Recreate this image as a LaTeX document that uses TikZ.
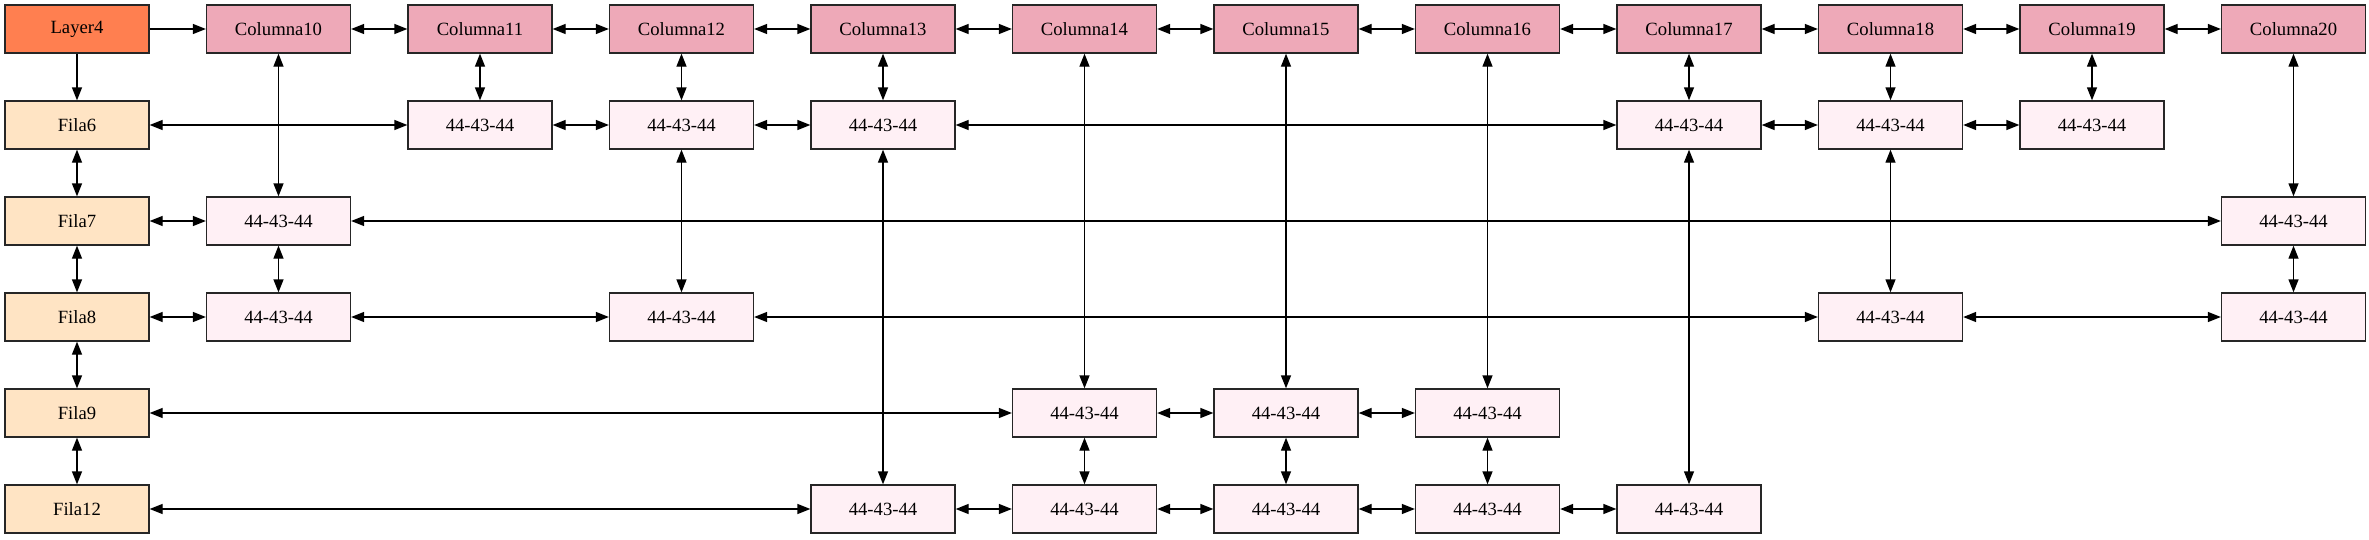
\documentclass[tikz,border=0pt]{standalone}
\usepackage{fontspec}
\setmainfont{Liberation Serif}
\usepackage{xcolor}
\usepackage{tikz}
\usetikzlibrary{shapes,arrows.meta}

\definecolor{layercol}{HTML}{FF7F50}
\definecolor{columnacol}{HTML}{EEA9B8}
\definecolor{filacol}{HTML}{FFE4C4}
\definecolor{cellcol}{HTML}{FFF0F5}

\begin{document}
\begin{tikzpicture}[node distance=151.125pt, auto, line width=1pt, >={Triangle[length=9.75pt,width=7.5pt]}]
		% Define the style for the nodes
		\tikzstyle{box}=[rectangle, draw=black!85, line width=1pt, minimum width=108pt, minimum height=36pt, inner sep=0pt, text centered, font=\fontsize{14}{16}\selectfont]
		\tikzstyle{layer}=[box, fill=layercol]
		\tikzstyle{columna}=[box, fill=columnacol]
		\tikzstyle{fila}=[box, fill=filacol]
		\tikzstyle{cell}=[box, fill=cellcol]

		\useasboundingbox (-57.75pt,21.75pt) rectangle (1719pt,-382.5pt);

		% Define nodes
		\node (layer) [layer] {Layer4};
		\node (col10) [columna, right of=layer] {Columna10};
		\node (col11) [columna, right of=col10] {Columna11};
		\node (col12) [columna, right of=col11] {Columna12};
		\node (col13) [columna, right of=col12] {Columna13};
		\node (col14) [columna, right of=col13] {Columna14};
		\node (col15) [columna, right of=col14] {Columna15};
		\node (col16) [columna, right of=col15] {Columna16};
		\node (col17) [columna, right of=col16] {Columna17};
		\node (col18) [columna, right of=col17] {Columna18};
		\node (col19) [columna, right of=col18] {Columna19};
		\node (col20) [columna, right of=col19] {Columna20};

		\node (fila6) [fila, below of=layer, node distance=72pt] {Fila6};
		\node (fila7) [fila, below of=fila6, node distance=72pt] {Fila7};
		\node (fila8) [fila, below of=fila7, node distance=72pt] {Fila8};
		\node (fila9) [fila, below of=fila8, node distance=72pt] {Fila9};
		\node (fila12) [fila, below of=fila9, node distance=72pt] {Fila12};

		\node (f6c11) [cell] at (col11 |- fila6) {44-43-44};
		\node (f6c12) [cell] at (col12 |- fila6) {44-43-44};
		\node (f6c13) [cell] at (col13 |- fila6) {44-43-44};
		\node (f6c17) [cell] at (col17 |- fila6) {44-43-44};
		\node (f6c18) [cell] at (col18 |- fila6) {44-43-44};
		\node (f6c19) [cell] at (col19 |- fila6) {44-43-44};

		\node (f7c10) [cell] at (col10 |- fila7) {44-43-44};
		\node (f7c20) [cell] at (col20 |- fila7) {44-43-44};

		\node (f8c10) [cell] at (col10 |- fila8) {44-43-44};
		\node (f8c12) [cell] at (col12 |- fila8) {44-43-44};
		\node (f8c18) [cell] at (col18 |- fila8) {44-43-44};
		\node (f8c20) [cell] at (col20 |- fila8) {44-43-44};

		\node (f9c14) [cell] at (col14 |- fila9) {44-43-44};
		\node (f9c15) [cell] at (col15 |- fila9) {44-43-44};
		\node (f9c16) [cell] at (col16 |- fila9) {44-43-44};

		\node (f12c13) [cell] at (col13 |- fila12) {44-43-44};
		\node (f12c14) [cell] at (col14 |- fila12) {44-43-44};
		\node (f12c15) [cell] at (col15 |- fila12) {44-43-44};
		\node (f12c16) [cell] at (col16 |- fila12) {44-43-44};
		\node (f12c17) [cell] at (col17 |- fila12) {44-43-44};

		% Define edges
		\draw[->] (layer) -- (col10);
		\draw[->] (layer) -- (fila6);

		\draw[<->] (col10) -- (col11);
		\draw[<->] (col11) -- (col12);
		\draw[<->] (col12) -- (col13);
		\draw[<->] (col13) -- (col14);
		\draw[<->] (col14) -- (col15);
		\draw[<->] (col15) -- (col16);
		\draw[<->] (col16) -- (col17);
		\draw[<->] (col17) -- (col18);
		\draw[<->] (col18) -- (col19);
		\draw[<->] (col19) -- (col20);

		\draw[<->] (fila6) -- (fila7);
		\draw[<->] (fila7) -- (fila8);
		\draw[<->] (fila8) -- (fila9);
		\draw[<->] (fila9) -- (fila12);

		\draw[<->] (fila6) -- (f6c11);
		\draw[<->] (f6c11) -- (f6c12);
		\draw[<->] (f6c12) -- (f6c13);
		\draw[<->] (f6c13) -- (f6c17);
		\draw[<->] (f6c17) -- (f6c18);
		\draw[<->] (f6c18) -- (f6c19);

		\draw[<->] (fila7) -- (f7c10);
		\draw[<->] (f7c10) -- (f7c20);

		\draw[<->] (fila8) -- (f8c10);
		\draw[<->] (f8c10) -- (f8c12);
		\draw[<->] (f8c12) -- (f8c18);
		\draw[<->] (f8c18) -- (f8c20);

		\draw[<->] (fila9) -- (f9c14);
		\draw[<->] (f9c14) -- (f9c15);
		\draw[<->] (f9c15) -- (f9c16);

		\draw[<->] (fila12) -- (f12c13);
		\draw[<->] (f12c13) -- (f12c14);
		\draw[<->] (f12c14) -- (f12c15);
		\draw[<->] (f12c15) -- (f12c16);
		\draw[<->] (f12c16) -- (f12c17);

		\draw[<->] (col10) -- (f7c10);
		\draw[<->] (f7c10) -- (f8c10);
		\draw[<->] (col11) -- (f6c11);
		\draw[<->] (col12) -- (f6c12);
		\draw[<->] (f6c12) -- (f8c12);
		\draw[<->] (col13) -- (f6c13);
		\draw[<->] (f6c13) -- (f12c13);
		\draw[<->] (col14) -- (f9c14);
		\draw[<->] (f9c14) -- (f12c14);
		\draw[<->] (col15) -- (f9c15);
		\draw[<->] (f9c15) -- (f12c15);
		\draw[<->] (col16) -- (f9c16);
		\draw[<->] (f9c16) -- (f12c16);
		\draw[<->] (col17) -- (f6c17);
		\draw[<->] (f6c17) -- (f12c17);
		\draw[<->] (col18) -- (f6c18);
		\draw[<->] (f6c18) -- (f8c18);
		\draw[<->] (col19) -- (f6c19);
		\draw[<->] (col20) -- (f7c20);
		\draw[<->] (f7c20) -- (f8c20);
	\end{tikzpicture}
\end{document}
